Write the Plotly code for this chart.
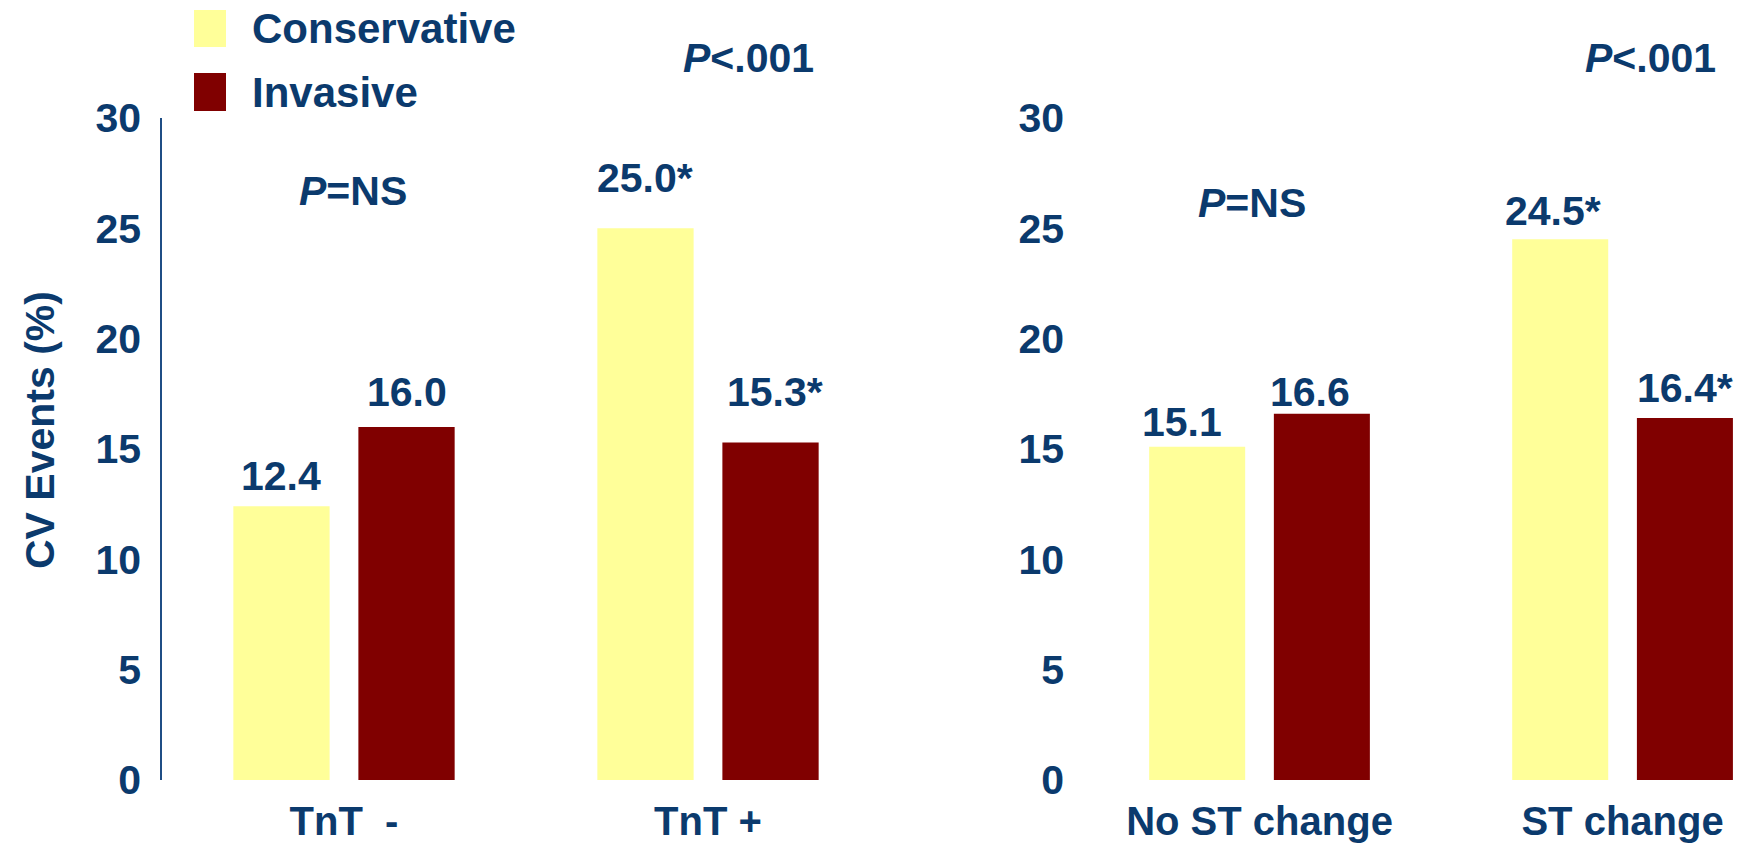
import plotly.graph_objects as go

# Cardiovascular event rates by troponin T status and ST-segment change
tnt_groups = ["TnT\u00a0\u00a0-", "TnT +"]
tnt_conservative = [12.4, 25.0]
tnt_invasive = [16.0, 15.3]
tnt_conservative_labels = ["12.4", "25.0*"]
tnt_invasive_labels = ["16.0", "15.3*"]

st_groups = ["No ST change", "ST change"]
st_conservative = [15.1, 24.5]
st_invasive = [16.6, 16.4]
st_conservative_labels = ["15.1", "24.5*"]
st_invasive_labels = ["16.6", "16.4*"]

p_values = ["<i>P</i>=NS", "<i>P</i><.001", "<i>P</i>=NS", "<i>P</i><.001"]
y_ticks = [0, 5, 10, 15, 20, 25, 30]

W, H = 1742, 848
NAVY = "#0B3A6D"
YELLOW = "#FFFF99"
MAROON = "#800000"
FONT = "Liberation Sans, Arial, sans-serif"


def px_x(v):
    return v / W


def px_y(v):
    return (H - v) / H


fig = go.Figure()

fig.add_trace(go.Bar(x=tnt_groups, y=tnt_conservative, name="Conservative",
                     marker=dict(color=YELLOW, line=dict(width=0)),
                     xaxis="x", yaxis="y", showlegend=False))
fig.add_trace(go.Bar(x=tnt_groups, y=tnt_invasive, name="Invasive",
                     marker=dict(color=MAROON, line=dict(width=0)),
                     xaxis="x", yaxis="y", showlegend=False))
fig.add_trace(go.Bar(x=st_groups, y=st_conservative, name="Conservative",
                     marker=dict(color=YELLOW, line=dict(width=0)),
                     xaxis="x2", yaxis="y2", showlegend=False))
fig.add_trace(go.Bar(x=st_groups, y=st_invasive, name="Invasive",
                     marker=dict(color=MAROON, line=dict(width=0)),
                     xaxis="x2", yaxis="y2", showlegend=False))

ytick_font = dict(family=FONT, size=41, color=NAVY, weight="bold")
xtick_font = dict(family=FONT, size=40, color=NAVY, weight="bold")
y_domain = [px_y(780), px_y(118)]

fig.update_layout(
    width=W, height=H,
    margin=dict(l=0, r=0, t=0, b=0, autoexpand=False),
    paper_bgcolor="white", plot_bgcolor="white",
    barmode="group", bargap=0.313, bargroupgap=0.23,
    showlegend=False,
    xaxis=dict(domain=[px_x(162), px_x(890)], range=[-0.5, 1.5],
               showline=False, showgrid=False, zeroline=False, ticks="",
               tickfont=xtick_font, ticklabelstandoff=14, anchor="y",
               automargin=False),
    yaxis=dict(domain=y_domain, range=[0, 30], tickvals=y_ticks,
               showline=True, linecolor="#1F4E85", linewidth=1.5,
               showgrid=False, zeroline=False, ticks="",
               tickfont=ytick_font, ticklabelstandoff=11, anchor="x",
               automargin=False),
    xaxis2=dict(domain=[px_x(1078), 1.0], range=[-0.5, 1.329],
                showline=False, showgrid=False, zeroline=False, ticks="",
                tickfont=xtick_font, ticklabelstandoff=14, anchor="y2",
                automargin=False),
    yaxis2=dict(domain=y_domain, range=[0, 30], tickvals=y_ticks,
                showline=False, showgrid=False, zeroline=False, ticks="",
                tickfont=ytick_font, ticklabelstandoff=13, anchor="x2",
                automargin=False),
)

label_font = dict(family=FONT, size=41, color=NAVY, weight="bold")
bar_offset = 0.172

# value labels above each bar, with pixel nudges (dx, dy) for each label
panels = [
    ("x", "y", tnt_conservative, tnt_invasive,
     tnt_conservative_labels, tnt_invasive_labels,
     [(0, 30), (0, 50)], [(0, 35), (4, 50)]),
    ("x2", "y2", st_conservative, st_invasive,
     st_conservative_labels, st_invasive_labels,
     [(-15, 25), (-7, 28)], [(-12, 22), (0, 30)]),
]
for xref, yref, cons, inv, cons_lbl, inv_lbl, cons_nudge, inv_nudge in panels:
    for i in range(2):
        fig.add_annotation(x=i - bar_offset, y=cons[i], xref=xref, yref=yref,
                           text=cons_lbl[i], showarrow=False,
                           xshift=cons_nudge[i][0], yshift=cons_nudge[i][1],
                           font=label_font, yanchor="middle")
        fig.add_annotation(x=i + bar_offset, y=inv[i], xref=xref, yref=yref,
                           text=inv_lbl[i], showarrow=False,
                           xshift=inv_nudge[i][0], yshift=inv_nudge[i][1],
                           font=label_font, yanchor="middle")

# significance notes
p_positions = [(353, 191), (748, 58), (1252, 203), (1650, 58)]
for txt, (px, py) in zip(p_values, p_positions):
    fig.add_annotation(x=px_x(px), y=px_y(py), xref="paper", yref="paper",
                       text=txt, showarrow=False, font=label_font,
                       xanchor="center", yanchor="middle")

# y-axis title
fig.add_annotation(x=px_x(40), y=px_y(430), xref="paper", yref="paper",
                   text="CV Events (%)", textangle=-90, showarrow=False,
                   font=dict(family=FONT, size=41, color=NAVY, weight="bold"),
                   xanchor="center", yanchor="middle")

# legend keys
for name, color, top, bottom in [("Conservative", YELLOW, 10, 47),
                                 ("Invasive", MAROON, 73, 111)]:
    fig.add_shape(type="rect", xref="paper", yref="paper",
                  x0=px_x(194), x1=px_x(226), y0=px_y(bottom), y1=px_y(top),
                  fillcolor=color, line=dict(width=0))
    fig.add_annotation(x=px_x(250), y=px_y((top + bottom) / 2),
                       xref="paper", yref="paper", text=name, showarrow=False,
                       xanchor="left", yanchor="middle",
                       font=dict(family=FONT, size=42, color=NAVY, weight="bold"))

fig.write_html("out.html")
